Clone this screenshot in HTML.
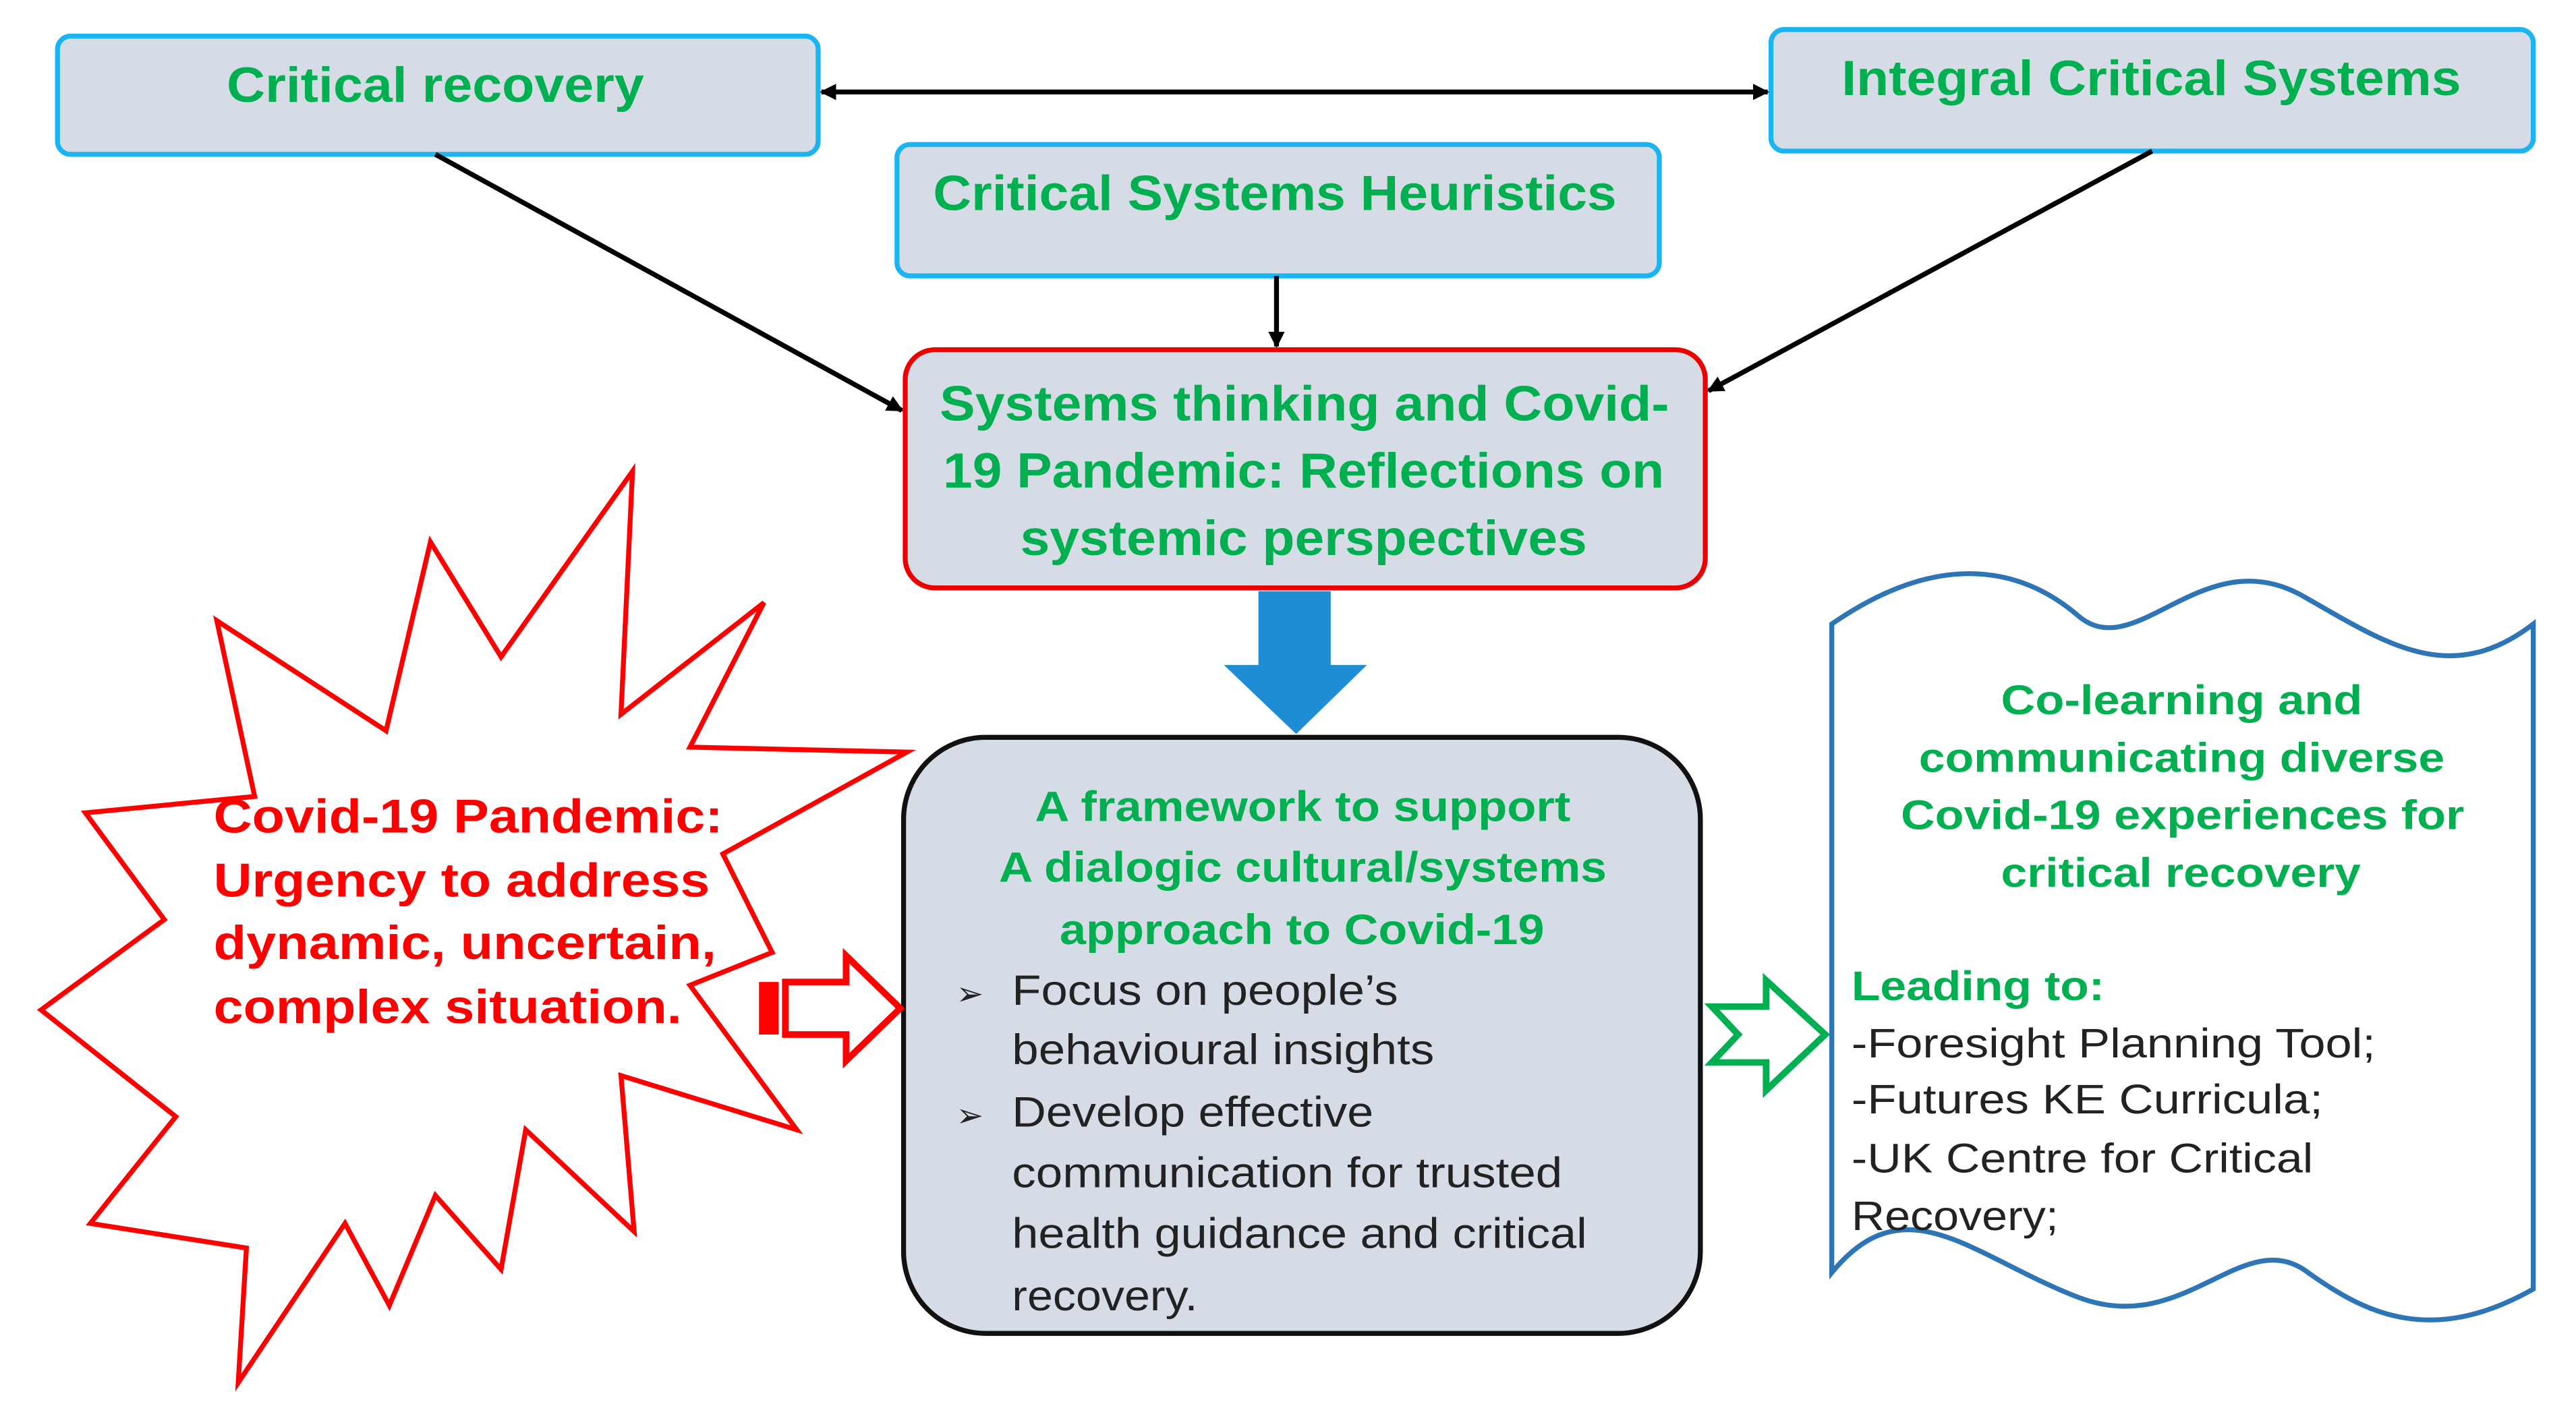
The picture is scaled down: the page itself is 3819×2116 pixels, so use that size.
<!DOCTYPE html>
<html><head><meta charset="utf-8"><style>
html,body{margin:0;padding:0;background:#fff}
svg{display:block}
.g{fill:#00b050;font-family:"Liberation Sans",sans-serif;font-weight:bold}
.r{fill:#ff0000;font-family:"Liberation Sans",sans-serif;font-weight:bold}
.k{fill:#222;font-family:"Liberation Sans",sans-serif}
</style></head><body>
<svg width="3819" height="2116" viewBox="0 0 1568 869" preserveAspectRatio="none" xmlns="http://www.w3.org/2000/svg">
<defs>
<marker id="a" markerWidth="10" markerHeight="10" refX="9" refY="5" orient="auto" markerUnits="userSpaceOnUse"><path d="M0,0 L10,5 L0,10 z" fill="#000"/></marker>
<marker id="b" markerWidth="10" markerHeight="10" refX="1" refY="5" orient="auto" markerUnits="userSpaceOnUse"><path d="M10,0 L0,5 L10,10 z" fill="#000"/></marker>
</defs>
<rect width="1568" height="869" fill="#fff"/>
<rect x="35" y="22" width="463" height="72" rx="8" fill="#d6dce5" stroke="#1ab4f0" stroke-width="3"/>
<text x="138" y="62" class="g" font-size="30" textLength="254" lengthAdjust="spacingAndGlyphs">Critical recovery</text>
<rect x="1078" y="18" width="464" height="74" rx="8" fill="#d6dce5" stroke="#1ab4f0" stroke-width="3"/>
<text x="1121" y="58" class="g" font-size="30" textLength="377" lengthAdjust="spacingAndGlyphs">Integral Critical Systems</text>
<rect x="546" y="88" width="464" height="80" rx="8" fill="#d6dce5" stroke="#1ab4f0" stroke-width="3"/>
<text x="568" y="128" class="g" font-size="30" textLength="416" lengthAdjust="spacingAndGlyphs">Critical Systems Heuristics</text>
<line x1="500" y1="56" x2="1076" y2="56" stroke="#000" stroke-width="3" marker-start="url(#b)" marker-end="url(#a)"/>
<line x1="777" y1="168" x2="777" y2="211" stroke="#000" stroke-width="3" marker-end="url(#a)"/>
<line x1="265" y1="94" x2="549" y2="250" stroke="#000" stroke-width="3" marker-end="url(#a)"/>
<line x1="1310" y1="92" x2="1040" y2="238" stroke="#000" stroke-width="3" marker-end="url(#a)"/>
<rect x="551" y="213" width="487" height="145" rx="18" fill="#d6dce5" stroke="#e00" stroke-width="3"/>
<text x="572" y="256" class="g" font-size="30" textLength="444" lengthAdjust="spacingAndGlyphs">Systems thinking and Covid-</text>
<text x="574" y="297" class="g" font-size="30" textLength="439" lengthAdjust="spacingAndGlyphs">19 Pandemic: Reflections on</text>
<text x="621" y="338" class="g" font-size="30" textLength="345" lengthAdjust="spacingAndGlyphs">systemic perspectives</text>
<path d="M766,360 H810 V405 H832 L789,447 L745,405 H766 Z" fill="#1f8dd6"/>
<rect x="550" y="449" width="485" height="363" rx="50" fill="#d6dce5" stroke="#111" stroke-width="3"/>
<text x="630" y="500" class="g" font-size="26" textLength="326" lengthAdjust="spacingAndGlyphs">A framework to support</text>
<text x="608" y="537" class="g" font-size="26" textLength="370" lengthAdjust="spacingAndGlyphs">A dialogic cultural/systems</text>
<text x="645" y="575" class="g" font-size="26" textLength="295" lengthAdjust="spacingAndGlyphs">approach to Covid-19</text>
<g class="k" font-size="26">
<text x="582" y="612" font-size="20">➢</text>
<text x="616" y="612" textLength="235" lengthAdjust="spacingAndGlyphs">Focus on people’s</text>
<text x="616" y="648" textLength="257" lengthAdjust="spacingAndGlyphs">behavioural insights</text>
<text x="582" y="686" font-size="20">➢</text>
<text x="616" y="686" textLength="220" lengthAdjust="spacingAndGlyphs">Develop effective</text>
<text x="616" y="723" textLength="335" lengthAdjust="spacingAndGlyphs">communication for trusted</text>
<text x="616" y="760" textLength="350" lengthAdjust="spacingAndGlyphs">health guidance and critical</text>
<text x="616" y="798" textLength="113" lengthAdjust="spacingAndGlyphs">recovery.</text>
</g>
<polygon points="385,287 378,435 465,367 420,455 552,458 440,520 470,580 420,600 485,688 378,655 386,750 320,688 305,773 265,728 237,795 210,745 145,842 150,760 55,745 107,680 25,615 100,560 52,495 155,485 132,378 235,445 262,330 305,400" fill="#fff" stroke="#f00" stroke-width="3" stroke-linejoin="miter"/>
<g class="r" font-size="29">
<text x="130" y="507" textLength="310" lengthAdjust="spacingAndGlyphs">Covid-19 Pandemic:</text>
<text x="130" y="546" textLength="302" lengthAdjust="spacingAndGlyphs">Urgency to address</text>
<text x="130" y="584" textLength="306" lengthAdjust="spacingAndGlyphs">dynamic, uncertain,</text>
<text x="130" y="623" textLength="285" lengthAdjust="spacingAndGlyphs">complex situation.</text>
</g>
<rect x="462" y="598" width="12" height="32" fill="#f00"/>
<path d="M478,598 H515 V582 L548,614 L515,646 V630 H478 Z" fill="#fff" stroke="#f00" stroke-width="4"/>
<path d="M1042,613 H1075 V597 L1111,630 L1075,664 V647 H1042 L1058,630 Z" fill="#fff" stroke="#00b050" stroke-width="4"/>
<path d="M1115,380 C1180,335 1230,345 1265,375 C1300,405 1340,330 1400,362 C1450,390 1490,420 1542,380 V785 C1480,820 1440,800 1405,775 C1365,745 1330,815 1265,790 C1200,765 1160,720 1115,775 Z" fill="#fff" stroke="#2e75b6" stroke-width="3"/>
<g class="g" font-size="25">
<text x="1218" y="435" textLength="220" lengthAdjust="spacingAndGlyphs">Co-learning and</text>
<text x="1168" y="470" textLength="320" lengthAdjust="spacingAndGlyphs">communicating diverse</text>
<text x="1157" y="505" textLength="343" lengthAdjust="spacingAndGlyphs">Covid-19 experiences for</text>
<text x="1218" y="540" textLength="219" lengthAdjust="spacingAndGlyphs">critical recovery</text>
</g>
<text x="1127" y="609" class="g" font-size="25" textLength="154" lengthAdjust="spacingAndGlyphs">Leading to:</text>
<g class="k" font-size="25">
<text x="1127" y="644" textLength="319" lengthAdjust="spacingAndGlyphs">-Foresight Planning Tool;</text>
<text x="1127" y="678" textLength="287" lengthAdjust="spacingAndGlyphs">-Futures KE Curricula;</text>
<text x="1127" y="714" textLength="281" lengthAdjust="spacingAndGlyphs">-UK Centre for Critical</text>
<text x="1127" y="749" textLength="126" lengthAdjust="spacingAndGlyphs">Recovery;</text>
</g>
</svg>
</body></html>
